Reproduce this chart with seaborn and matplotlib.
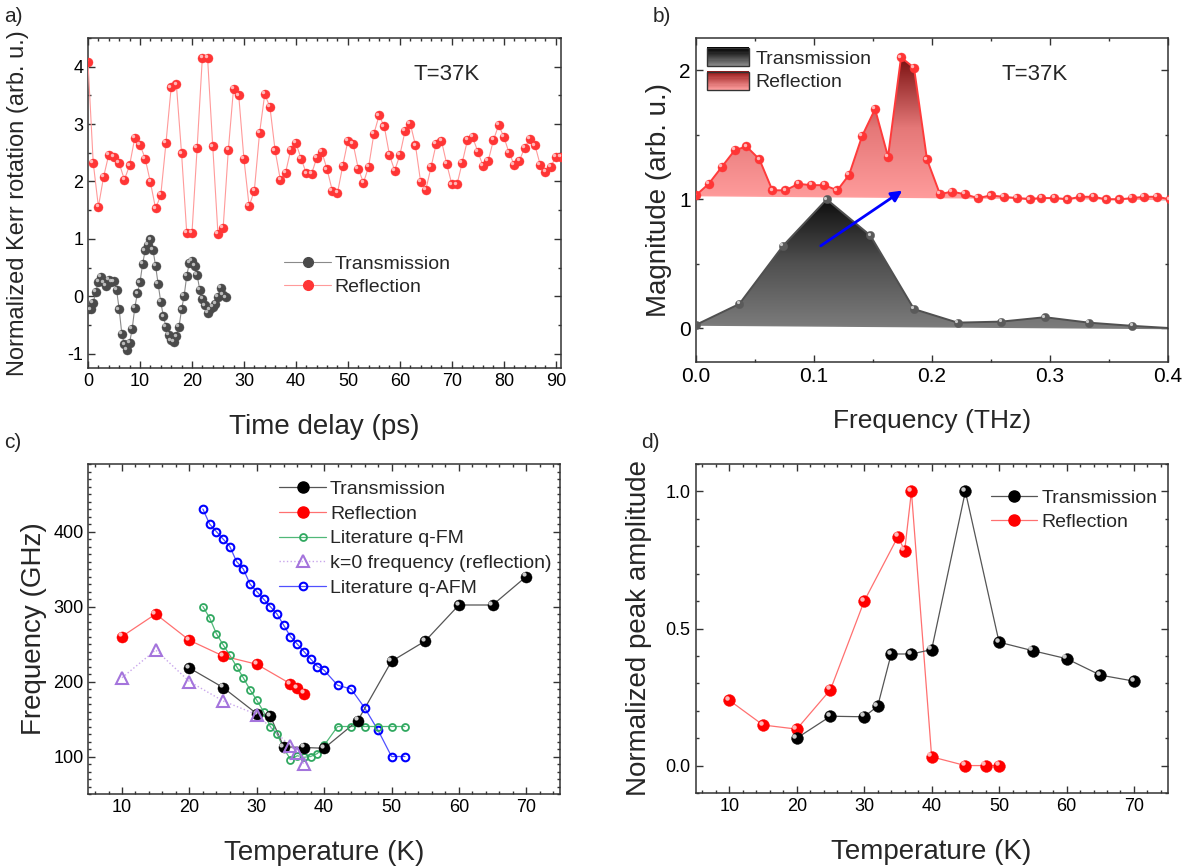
import numpy as np
import matplotlib
matplotlib.use("Agg")
import matplotlib.pyplot as plt
import seaborn as sns
from matplotlib.ticker import MultipleLocator
from matplotlib.transforms import offset_copy
from matplotlib.patches import Polygon, Rectangle
from matplotlib.colors import LinearSegmentedColormap, to_rgb
from matplotlib.lines import Line2D
from matplotlib.legend_handler import HandlerBase

# ---------------- data ----------------
# (a) time traces
t_refl = [0, 1, 2, 3, 4, 5, 6, 7, 8, 9, 10, 11, 12, 13, 14, 15, 16, 17, 18, 19,
          20, 21, 22, 23, 24, 25, 26, 27, 28, 29, 30, 31, 32, 33, 34, 35, 36, 37, 38, 39,
          40, 41, 42, 43, 44, 45, 46, 47, 48, 49, 50, 51, 52, 53, 54, 55, 56, 57, 58, 59,
          60, 61, 62, 63, 64, 65, 66, 67, 68, 69, 70, 71, 72, 73, 74, 75, 76, 77, 78, 79,
          80, 81, 82, 83, 84, 85, 86, 87, 88, 89, 90, 91]
kerr_refl = [4.08, 2.33, 1.56, 2.08, 2.47, 2.43, 2.32, 2.03, 2.28, 2.76,
             2.64, 2.40, 1.99, 1.53, 1.76, 2.67, 3.64, 3.69, 2.49, 1.10,
             1.10, 2.59, 4.16, 4.16, 2.61, 1.09, 1.19, 2.55, 3.62, 3.50,
             2.39, 1.57, 1.84, 2.84, 3.52, 3.30, 2.54, 2.03, 2.15, 2.55,
             2.67, 2.40, 2.14, 2.13, 2.41, 2.51, 2.21, 1.84, 1.80, 2.27,
             2.71, 2.66, 2.22, 1.98, 2.26, 2.83, 3.15, 2.96, 2.46, 2.19,
             2.46, 2.88, 3.01, 2.63, 1.99, 1.86, 2.25, 2.66, 2.71, 2.31,
             1.95, 1.95, 2.33, 2.72, 2.77, 2.52, 2.27, 2.36, 2.72, 2.98,
             2.78, 2.50, 2.29, 2.36, 2.59, 2.74, 2.63, 2.29, 2.16, 2.25,
             2.43, 2.43]
t_trans = [0.0, 0.5, 1.0, 1.5, 2.0, 2.5, 3.0, 3.5, 4.0, 4.5, 5.0, 5.5, 6.0, 6.5,
           7.0, 7.5, 8.0, 8.5, 9.0, 9.5, 10.0, 10.5, 11.0, 11.5, 12.0, 12.5, 13.0,
           13.5, 14.0, 14.5, 15.0, 15.5, 16.0, 16.5, 17.0, 17.5, 18.0, 18.5, 19.0,
           19.5, 20.0, 20.5, 21.0, 21.5, 22.0, 22.5, 23.0, 23.5, 24.0, 24.5, 25.0,
           25.5, 26.0, 26.5]
kerr_trans = [-0.23, -0.23, -0.12, 0.08, 0.25, 0.34, 0.24, 0.18, 0.29, 0.25, 0.26,
              0.11, -0.23, -0.65, -0.84, -0.94, -0.81, -0.57, -0.20, 0.05, 0.24,
              0.56, 0.80, 0.89, 0.99, 0.81, 0.53, 0.21, -0.10, -0.35, -0.53, -0.67,
              -0.77, -0.80, -0.70, -0.54, -0.23, 0.01, 0.36, 0.58, 0.62, 0.53, 0.37,
              0.11, -0.04, -0.16, -0.29, -0.23, -0.19, -0.13, -0.01, 0.15, 0.02, -0.02]

# (b) spectra
f_trans = [0.000, 0.037, 0.074, 0.111, 0.148, 0.185, 0.222, 0.259, 0.296, 0.333, 0.370, 0.407]
mag_trans = [0.027, 0.19, 0.64, 1.00, 0.72, 0.15, 0.045, 0.053, 0.087, 0.045, 0.02, 0.0]
f_refl = [0.000, 0.011, 0.022, 0.033, 0.043, 0.054, 0.065, 0.076, 0.087, 0.098,
          0.109, 0.120, 0.130, 0.141, 0.152, 0.163, 0.174, 0.185, 0.196, 0.207,
          0.217, 0.228, 0.239, 0.250, 0.261, 0.272, 0.283, 0.293, 0.304, 0.315,
          0.326, 0.337, 0.348, 0.359, 0.370, 0.380, 0.391, 0.402]
mag_refl = [1.03, 1.12, 1.25, 1.38, 1.41, 1.31, 1.07, 1.07, 1.12, 1.11,
            1.11, 1.07, 1.19, 1.49, 1.70, 1.33, 2.10, 2.02, 1.31, 1.04,
            1.06, 1.04, 1.01, 1.03, 1.02, 1.01, 1.00, 1.01, 1.01, 1.00,
            1.02, 1.02, 1.00, 1.00, 1.01, 1.02, 1.02, 1.00]

# (c) frequencies vs temperature
T_trans = [20, 25, 30, 32, 34, 37, 40, 45, 50, 55, 60, 65, 70]
freq_trans = [218, 192, 157, 154, 113, 112, 111, 148, 227, 254, 302, 302, 340]
T_refl = [10, 15, 20, 25, 30, 35, 36, 37]
freq_refl = [260, 290, 255, 234, 223, 197, 191, 184]
T_k0 = [10, 15, 20, 25, 30, 35, 36, 37]
freq_k0 = [205, 242, 200, 174, 156, 114, 105, 90]
T_lit = [22, 23, 24, 25, 26, 27, 28, 29, 30, 31, 32, 33, 34, 35, 36, 37, 38, 39, 40,
         42, 44, 46, 48, 50, 52]
freq_qfm = [300, 285, 264, 249, 235, 220, 205, 189, 175, 160, 140, 130, 111, 96, 101,
            99, 100, 104, 115, 140, 140, 140, 140, 140, 140]
freq_qafm = [430, 410, 400, 390, 380, 360, 350, 330, 320, 310, 300, 290, 275, 260, 250,
             240, 230, 220, 215, 195, 190, 165, 135, 100, 100]

# (d) normalized peak amplitude
T_amp_trans = [20, 25, 30, 32, 34, 37, 40, 45, 50, 55, 60, 65, 70]
amp_trans = [0.10, 0.18, 0.178, 0.217, 0.407, 0.407, 0.423, 1.00, 0.45, 0.419, 0.39, 0.33, 0.308]
T_amp_refl = [10, 15, 20, 25, 30, 35, 36, 37, 40, 45, 48, 50]
amp_refl = [0.238, 0.148, 0.133, 0.277, 0.60, 0.835, 0.784, 1.00, 0.032, 0.0, 0.0, 0.0]

# ---------------- style ----------------
sns.set_theme(style="ticks")
plt.rcParams["font.family"] = ["Liberation Sans", "DejaVu Sans"]
plt.rcParams["axes.linewidth"] = 1.0
plt.rcParams["axes.unicode_minus"] = False

W, H = 1193, 866
fig = plt.figure(figsize=(W / 100, H / 100), dpi=100)


def px_axes(l, t, r, b):
    return fig.add_axes([l / W, 1 - b / H, (r - l) / W, (b - t) / H])


def style(ax, xmaj, xmin, ymaj, ymin, fs):
    ax.xaxis.set_major_locator(MultipleLocator(xmaj))
    ax.xaxis.set_minor_locator(MultipleLocator(xmin))
    ax.yaxis.set_major_locator(MultipleLocator(ymaj))
    ax.yaxis.set_minor_locator(MultipleLocator(ymin))
    ax.tick_params(which="both", direction="in", top=True, right=True,
                   labelsize=fs, color="#333333", width=1.0, labelcolor="black")
    ax.tick_params(which="major", length=5)
    ax.tick_params(which="minor", length=2.5)
    for s in ax.spines.values():
        s.set_color("#333333")
        s.set_linewidth(1.1)


def balls(ax, x, y, face, hl, ms, z=4, hl_alpha=0.85):
    sns.scatterplot(x=x, y=y, ax=ax, s=ms ** 2, color=face, edgecolor=face,
                    linewidth=0.3, zorder=z, legend=False)
    tr = offset_copy(ax.transData, fig=fig, x=-0.2 * ms, y=0.2 * ms, units="points")
    ax.scatter(x, y, s=(0.38 * ms) ** 2, c=hl, alpha=hl_alpha, linewidths=0,
               transform=tr, zorder=z + 0.1)


def line(ax, x, y, color, lw, ls="-", z=3):
    sns.lineplot(x=x, y=y, ax=ax, sort=False, estimator=None, color=color,
                 lw=lw, linestyle=ls, zorder=z)


def mix(c1, c2, f):
    a, b = np.array(to_rgb(c1)), np.array(to_rgb(c2))
    return tuple(a + (b - a) * f)


# ---------------- (a) ----------------
axa = px_axes(88, 38, 561, 368)
line(axa, t_refl, kerr_refl, "#ff9a9a", 0.8)
line(axa, t_trans, kerr_trans, "#8a8a8a", 0.8)
balls(axa, t_refl, kerr_refl, "#ff3535", "#ffd0d0", 6.5)
balls(axa, t_trans, kerr_trans, "#4a4a4a", "#d0d0d0", 6.5)
axa.set_xlim(0, 91)
axa.set_ylim(-1.25, 4.5)
style(axa, 10, 2, 1, 0.5, 13)
axa.set_xlabel("Time delay (ps)", fontsize=20)
axa.set_ylabel("Normalized Kerr rotation (arb. u.)", fontsize=17)
axa.xaxis.set_label_coords(0.5, -0.14)
axa.yaxis.set_label_coords(-0.125, 0.5)
axa.text(69, 3.87, "T=37K", fontsize=16, ha="center", va="center")
ha = [Line2D([], [], color="#8a8a8a", lw=0.8, marker="o", ms=7, mfc="#4a4a4a", mec="#4a4a4a"),
      Line2D([], [], color="#ff9a9a", lw=0.8, marker="o", ms=7, mfc="#ff3535", mec="#ff3535")]
axa.legend(ha, ["Transmission", "Reflection"], loc="center left",
           bbox_to_anchor=(0.415, 0.28), frameon=False, fontsize=14,
           handlelength=2.4, handletextpad=0.2, borderaxespad=0, borderpad=0,
           labelspacing=0.3)

# ---------------- (b) ----------------
axb = px_axes(695.7, 38, 1167.7, 362)


def grad_fill(ax, x, y, stops, z):
    x = np.asarray(x, float)
    y = np.asarray(y, float)
    base = np.array([y[0] + (y[-1] - y[0]) * (xi - x[0]) / (x[-1] - x[0]) for xi in x])
    verts = np.vstack([np.column_stack([x, y]), np.column_stack([x[::-1], base[::-1]])])
    poly = Polygon(verts, closed=True, facecolor="none", edgecolor="none")
    ax.add_patch(poly)
    cmap = LinearSegmentedColormap.from_list("g", stops)
    img = np.linspace(0, 1, 256).reshape(-1, 1)
    im = ax.imshow(img, extent=[x.min(), x.max(), base.min(), y.max()], origin="lower",
                   aspect="auto", cmap=cmap, zorder=z, interpolation="bilinear")
    im.set_clip_path(poly)
    ax.plot(x, base, color=stops[0], lw=1.2, zorder=z + 0.05)


grad_fill(axb, f_trans, mag_trans, ["#7c7c7c", "#505050", "#0c0c0c"], 1)
grad_fill(axb, f_refl, mag_refl, ["#ff9c9c", "#e57878", "#7a1010"], 1.5)
line(axb, f_trans, mag_trans, "#505050", 1.4, z=2)
line(axb, f_refl, mag_refl, "#ff3b3b", 1.4, z=2.5)
balls(axb, f_trans, mag_trans, "#5a5a5a", "#e0e0e0", 6.0, z=4)
balls(axb, f_refl, mag_refl, "#ff3535", "#ffd0d0", 6.5, z=4.5)
axb.annotate("", xy=(0.177, 1.08), xytext=(0.104, 0.628),
             arrowprops=dict(arrowstyle="-|>", color="#0000ff", lw=2, mutation_scale=16),
             zorder=6)
axb.set_xlim(0, 0.4)
axb.set_ylim(-0.26, 2.25)
style(axb, 0.1, 0.05, 1, 0.5, 15)
axb.set_xlabel("Frequency (THz)", fontsize=19)
axb.set_ylabel("Magnitude (arb. u.)", fontsize=20)
axb.xaxis.set_label_coords(0.5, -0.145)
axb.yaxis.set_label_coords(-0.05, 0.5)
axb.text(0.2875, 1.965, "T=37K", fontsize=16, ha="center", va="center")


class GradHandler(HandlerBase):
    def __init__(self, top, bot, edge):
        super().__init__()
        self.top, self.bot, self.edge = top, bot, edge

    def create_artists(self, legend, orig_handle, xdescent, ydescent, width, height,
                       fontsize, trans):
        arts = []
        n = 16
        for i in range(n):
            col = mix(self.bot, self.top, i / (n - 1))
            arts.append(Rectangle((-xdescent, -ydescent + height * i / n), width,
                                  height / n + 0.2, facecolor=col, edgecolor="none",
                                  transform=trans))
        arts.append(Rectangle((-xdescent, -ydescent), width, height, facecolor="none",
                              edgecolor=self.edge, lw=1.0, transform=trans))
        return arts


hb1, hb2 = Rectangle((0, 0), 1, 1), Rectangle((0, 0), 1, 1)
axb.legend([hb1, hb2], ["Transmission", "Reflection"], loc="upper left",
           bbox_to_anchor=(0.023, 0.97), frameon=False, fontsize=14,
           handlelength=2.2, handleheight=1.1, handletextpad=0.3,
           borderaxespad=0, borderpad=0, labelspacing=0.2,
           handler_map={hb1: GradHandler("#000000", "#8a8a8a", "#333333"),
                        hb2: GradHandler("#9a1a1a", "#ffa0a0", "#333333")})

# ---------------- (c) ----------------
axc = px_axes(88.3, 464, 560, 794)
line(axc, T_lit, freq_qafm, "#5050ff", 0.9)
line(axc, T_lit, freq_qfm, "#50b878", 0.9)
line(axc, T_refl, freq_refl, "#ff7070", 0.9)
line(axc, T_trans, freq_trans, "#555555", 0.9)
line(axc, T_k0, freq_k0, "#c9a6ec", 1.0, ls=":")
axc.plot(T_lit, freq_qafm, "o", ms=5.5, mfc="none", mec="#0000ff", mew=1.5, zorder=4)
axc.plot(T_lit, freq_qfm, "o", ms=5.0, mfc="none", mec="#30a860", mew=1.3, zorder=4)
balls(axc, T_trans, freq_trans, "#000000", "#f0f0f0", 8.0, z=5)
balls(axc, T_refl, freq_refl, "#ff0000", "#ffd8d8", 8.0, z=5)
axc.plot(T_k0, freq_k0, "^", ms=9, mfc="none", mec="#a474dc", mew=1.5, zorder=6)
axc.set_xlim(5, 75)
axc.set_ylim(50, 490)
style(axc, 10, 2, 100, 10, 13)
axc.set_xlabel("Temperature (K)", fontsize=20)
axc.set_ylabel("Frequency (GHz)", fontsize=20)
axc.xaxis.set_label_coords(0.5, -0.14)
axc.yaxis.set_label_coords(-0.088, 0.5)
hc = [Line2D([], [], color="#555555", lw=0.9, marker="o", ms=8, mfc="#000000", mec="#000000"),
      Line2D([], [], color="#ff7070", lw=0.9, marker="o", ms=8, mfc="#ff0000", mec="#ff0000"),
      Line2D([], [], color="#50b878", lw=0.9, marker="o", ms=5, mfc="none", mec="#30a860", mew=1.3),
      Line2D([], [], color="#c9a6ec", lw=1.0, ls=":", marker="^", ms=9, mfc="none", mec="#a474dc", mew=1.5),
      Line2D([], [], color="#5050ff", lw=0.9, marker="o", ms=5.5, mfc="none", mec="#0000ff", mew=1.5)]
axc.legend(hc, ["Transmission", "Reflection", "Literature q-FM",
                "k=0 frequency (reflection)", "Literature q-AFM"],
           loc="upper left", bbox_to_anchor=(0.405, 0.95), frameon=False, fontsize=14,
           handlelength=2.4, handletextpad=0.2, borderaxespad=0, borderpad=0,
           labelspacing=0.36)

# ---------------- (d) ----------------
axd = px_axes(695.6, 464, 1167.7, 793)
line(axd, T_amp_refl, amp_refl, "#ff7070", 0.9)
line(axd, T_amp_trans, amp_trans, "#555555", 0.9)
balls(axd, T_amp_refl, amp_refl, "#ff0000", "#ffd8d8", 8.5, z=5)
balls(axd, T_amp_trans, amp_trans, "#000000", "#f0f0f0", 8.5, z=5)
axd.set_xlim(5, 75)
axd.set_ylim(-0.1, 1.1)
style(axd, 10, 2, 0.5, 0.1, 13)
axd.set_xlabel("Temperature (K)", fontsize=20)
axd.set_ylabel("Normalized peak amplitude", fontsize=20)
axd.xaxis.set_label_coords(0.5, -0.14)
axd.yaxis.set_label_coords(-0.092, 0.5)
hd = [Line2D([], [], color="#555555", lw=0.9, marker="o", ms=8, mfc="#000000", mec="#000000"),
      Line2D([], [], color="#ff7070", lw=0.9, marker="o", ms=8, mfc="#ff0000", mec="#ff0000")]
axd.legend(hd, ["Transmission", "Reflection"], loc="upper left",
           bbox_to_anchor=(0.625, 0.922), frameon=False, fontsize=14,
           handlelength=2.4, handletextpad=0.2, borderaxespad=0, borderpad=0,
           labelspacing=0.3)

# panel labels
for lab, x, y in [("a)", 13, 16), ("b)", 662, 16), ("c)", 13, 443), ("d)", 650, 443)]:
    fig.text(x / W, 1 - y / H, lab, fontsize=15, ha="center", va="center")

fig.savefig("out.png", dpi=100)
